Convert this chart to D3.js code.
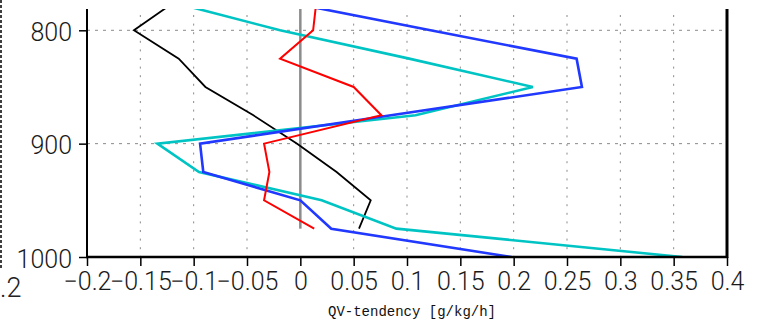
<!DOCTYPE html>
<html><head><meta charset="utf-8">
<script src="https://cdn.jsdelivr.net/npm/d3@7"></script>
<style>
html,body{margin:0;padding:0;background:#fff;overflow:hidden}
svg{display:block}
</style></head>
<body>
<svg id="chart" width="757" height="322"></svg>
<script>
// ---- data ----
const levels = [775, 800, 825, 850, 875, 900, 925, 950, 975, 1000];   // hPa
const seriesBlack = [-0.118, -0.156, -0.114, -0.089, -0.044, -0.003, 0.034, 0.066, 0.055];
const seriesRed   = [0.015, 0.012, -0.019, 0.050, 0.076, -0.034, -0.029, -0.034, 0.013];
const seriesBlue  = [-0.013, 0.122, 0.259, 0.264, 0.085, -0.094, -0.091, 0.000, 0.029, 0.198];
const seriesCyan  = [-0.121, -0.019, 0.102, 0.218, 0.108, -0.134, -0.095, 0.020, 0.090, 0.358];
const seriesZero  = [0, 0, 0, 0, 0, 0, 0, 0, 0];
const xTicks = [-0.2, -0.15, -0.1, -0.05, 0, 0.05, 0.1, 0.15, 0.2, 0.25, 0.3, 0.35, 0.4];
const xTickLabels = ["\u22120.2", "\u22120.15", "\u22120.1", "\u22120.05", "0", "0.05", "0.1", "0.15", "0.2", "0.25", "0.3", "0.35", "0.4"];
const yTicks = [800, 900, 1000];
const yTickLabels = ["800", "900", "1000"];
const xLabel = "QV-tendency [g/kg/h]";

// ---- layout ----
const L = 87, R = 727, T = 9, B = 257;
const FONT = "Roboto, Liberation Sans, Arial, sans-serif";
const svg = d3.select("#chart");
const x = d3.scaleLinear().domain([-0.2, 0.4]).range([L, R]);
const y = d3.scaleLinear().domain([800, 1000]).range([30.3, B]);

svg.append("defs").append("clipPath").attr("id", "plotclip")
  .append("rect").attr("x", L).attr("y", T).attr("width", R - L).attr("height", B - T);

// neighbour-panel remnants at the far left
svg.append("line").attr("x1", 1).attr("x2", 1).attr("y1", 0).attr("y2", 268)
  .attr("stroke", "#000").attr("stroke-width", 1.5).attr("stroke-dasharray", "3,2");
svg.append("text").attr("x", 0).attr("y", 297).attr("text-anchor", "start")
  .attr("font-family", FONT).attr("font-weight", 300).attr("font-size", 27)
  .attr("fill", "#222").text(".2");

// grid
const grid = svg.append("g");
xTicks.filter(t => t > -0.2 && t < 0.4 && t !== 0).forEach(t => {
  grid.append("line").attr("x1", x(t)).attr("x2", x(t)).attr("y1", T + 6).attr("y2", B)
    .attr("stroke", "#8a8a8a").attr("stroke-width", 1).attr("stroke-dasharray", "2,6.6");
});
yTicks.filter(t => t < 1000).forEach(t => {
  grid.append("line").attr("x1", L).attr("x2", R).attr("y1", y(t)).attr("y2", y(t))
    .attr("stroke", "#8a8a8a").attr("stroke-width", 1).attr("stroke-dasharray", "3,5");
});

// lines
const plot = svg.append("g").attr("clip-path", "url(#plotclip)");
const lineGen = d3.line().x(d => x(d[0])).y(d => y(d[1]));
function drawSeries(vals, color, width) {
  const pts = vals.map((v, i) => [v, levels[i]]);
  plot.append("path").attr("d", lineGen(pts)).attr("fill", "none")
    .attr("stroke", color).attr("stroke-width", width).attr("stroke-linejoin", "miter");
}
drawSeries(seriesZero, "#8c8c8c", 2.5);
drawSeries(seriesBlack, "#000000", 1.8);
drawSeries(seriesCyan, "#00c4c4", 2.6);
drawSeries(seriesBlue, "#2038ff", 2.6);
drawSeries(seriesRed, "#ff0000", 2);

// axes frame
svg.append("line").attr("x1", L).attr("x2", L).attr("y1", T).attr("y2", B + 1)
  .attr("stroke", "#000").attr("stroke-width", 2);
svg.append("line").attr("x1", R).attr("x2", R).attr("y1", T).attr("y2", B + 1)
  .attr("stroke", "#000").attr("stroke-width", 3);
svg.append("line").attr("x1", L - 1).attr("x2", R + 1).attr("y1", B).attr("y2", B)
  .attr("stroke", "#000").attr("stroke-width", 2.5);

// x axis ticks + labels
const xAxis = d3.axisBottom(x).tickValues(xTicks).tickSize(9).tickSizeOuter(0)
  .tickFormat((d, i) => xTickLabels[i]);
const gx = svg.append("g").attr("transform", `translate(0,${B})`).call(xAxis);
gx.select(".domain").remove();
gx.selectAll(".tick line").attr("stroke", "#000").attr("stroke-width", 1.5);
gx.selectAll(".tick text").attr("font-family", FONT).attr("font-weight", 300)
  .attr("font-size", 25).attr("fill", "#1a1a1a").attr("dy", null).attr("y", 33);

// y axis ticks + labels
const yAxis = d3.axisLeft(y).tickValues(yTicks).tickSize(8).tickSizeOuter(0)
  .tickFormat((d, i) => yTickLabels[i]);
const gy = svg.append("g").attr("transform", `translate(${L},0)`).call(yAxis);
gy.select(".domain").remove();
gy.selectAll(".tick line").attr("stroke", "#000").attr("stroke-width", 1.5);
gy.selectAll(".tick text").attr("font-family", FONT).attr("font-weight", 300)
  .attr("font-size", 25).attr("fill", "#1a1a1a").attr("dy", null).attr("y", 10).attr("x", -15);

// axis title
svg.append("text").attr("x", 412).attr("y", 316).attr("text-anchor", "middle")
  .attr("font-family", "Liberation Mono, DejaVu Sans Mono, monospace").attr("font-size", 14)
  .attr("fill", "#111").text(xLabel);
</script>
</body></html>
